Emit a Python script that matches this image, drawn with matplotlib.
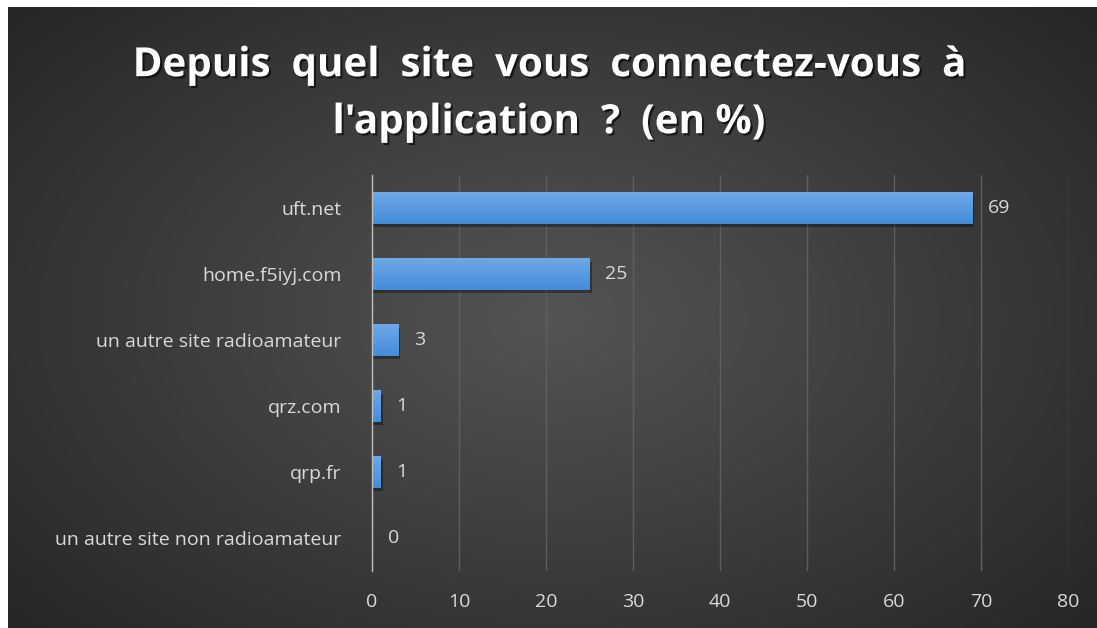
import numpy as np
import matplotlib
matplotlib.use('Agg')
from matplotlib import pyplot as plt
import matplotlib.patheffects as pe
from matplotlib.patches import Rectangle

sites = ['uft.net', 'home.f5iyj.com', 'un autre site radioamateur',
         'qrz.com', 'qrp.fr', 'un autre site non radioamateur']
percents = [69, 25, 3, 1, 1, 0]
x_ticks = [0, 10, 20, 30, 40, 50, 60, 70, 80]
title = "Depuis  quel  site  vous  connectez-vous  à\nl'application  ?  (en %)"

plt.rcParams['font.family'] = ['Open Sans', 'DejaVu Sans']

fig = plt.figure(figsize=(10.97, 6.28), dpi=100, facecolor='#262626')
# white strip top and left
fig.patches.append(Rectangle((0, 0), 8 / 1097, 1, transform=fig.transFigure, color='white', zorder=-5))
fig.patches.append(Rectangle((0, 621 / 628), 1, 7 / 628, transform=fig.transFigure, color='white', zorder=-5))

# dark radial background
bg = fig.add_axes([8 / 1097, 0, 1 - 8 / 1097, 621 / 628])
gx, gy = np.meshgrid(np.linspace(-1, 1, 400), np.linspace(-1, 1, 300))
r = np.sqrt((gx / 1.0) ** 2 + (gy / 1.1) ** 2)
shade = np.clip(1 - r / 1.35, 0, 1)
val = 0.15 + 0.18 * shade
img = np.dstack([val, val, val])
bg.imshow(img, aspect='auto', extent=[0, 1, 0, 1], interpolation='bilinear')
bg.set_xlim(0, 1)
bg.set_ylim(0, 1)
bg.set_axis_off()

fig.text(0.5, 0.85, title, ha='center', va='center', color='white',
         fontsize=29, fontweight='bold', linespacing=1.6,
         path_effects=[pe.withSimplePatchShadow(offset=(1.5, -1.5), shadow_rgbFace='black', alpha=0.6)])

ax = fig.add_axes([372 / 1097, 1 - 571 / 628, (1068 - 372) / 1097, (571 - 175) / 628])
ax.set_facecolor('none')
ypos = np.arange(len(sites))
h = 0.47

grad = np.linspace(0, 1, 50)
top = np.array([0.43, 0.66, 0.91])
bot = np.array([0.27, 0.55, 0.85])
grad_img = (top + (bot - top) * grad[:, None]).reshape(50, 1, 3)
for y, v in zip(ypos, percents):
    if v > 0:
        # shadow
        ax.barh(y + 0.06, v + 0.15, height=h, left=0.1, color='black', alpha=0.35, zorder=2, linewidth=0)
        ax.imshow(grad_img, extent=(0, v, y + h / 2, y - h / 2), aspect='auto', zorder=3)
    ax.text(v + 1.8, y, str(v), va='center', ha='left', color='#d9d9d9', fontsize=14)

ax.set_xlim(0, 80)
ax.set_ylim(len(sites) - 0.5, -0.5)
ax.set_xticks(x_ticks)
ax.set_yticks(ypos)
ax.set_yticklabels(sites)
ax.tick_params(axis='both', length=0, colors='#d9d9d9', labelsize=14)
ax.tick_params(axis='y', pad=22)
ax.tick_params(axis='x', pad=16)
ax.grid(axis='x', color='#5e5e5e', linewidth=1, zorder=0)
ax.set_axisbelow(True)
for s in ['top', 'right', 'bottom']:
    ax.spines[s].set_visible(False)
ax.spines['left'].set_color('#bfbfbf')
ax.spines['left'].set_linewidth(1)
ax.spines['left'].set_zorder(4)

fig.savefig('out.png', dpi=100, facecolor=fig.get_facecolor())
